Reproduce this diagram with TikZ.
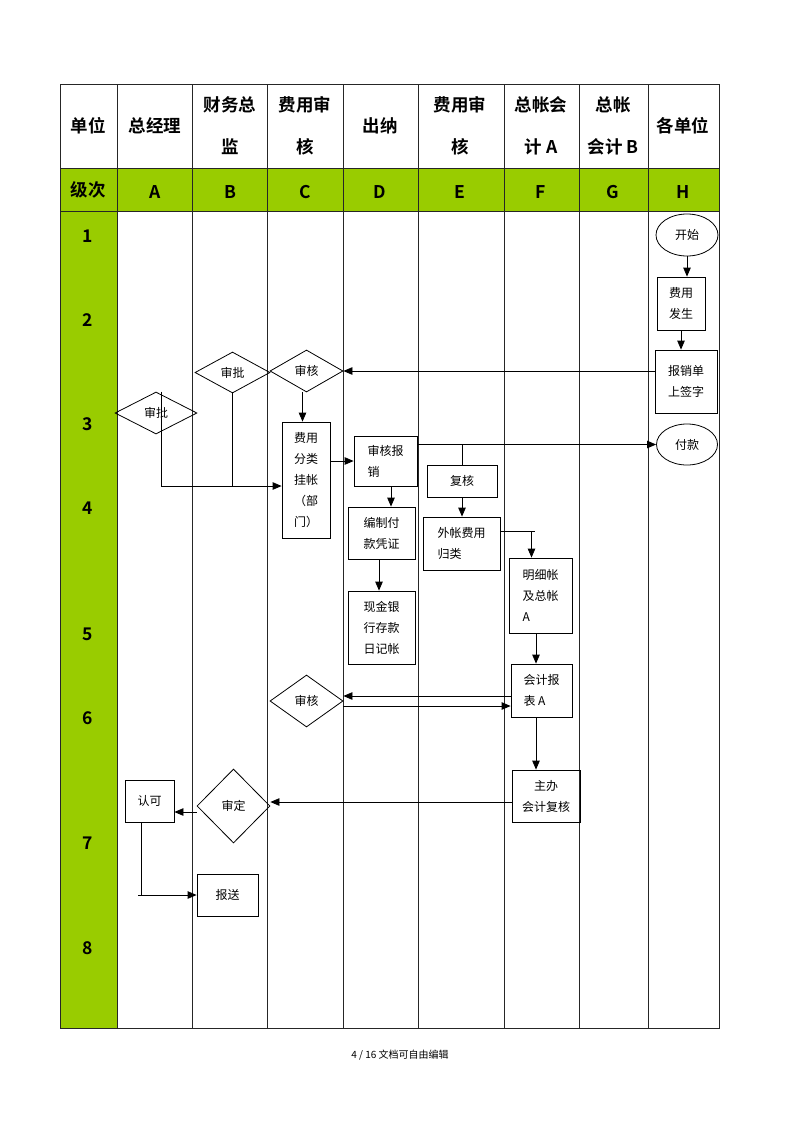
\documentclass[tikz,border=0pt]{standalone}
\usepackage{fontspec}
\newfontfamily\cjk{Noto Sans CJK SC}
\newfontfamily\hei{Noto Sans CJK SC Bold}
\usetikzlibrary{shapes.geometric,arrows.meta,calc}
\definecolor{lgreen}{RGB}{153,204,0}
\begin{document}
\begin{tikzpicture}[x=1pt,y=-1pt,
 every node/.style={font=\cjk\fontsize{12}{21}\selectfont},
 box/.style={draw, line width=0.8pt, align=left, inner sep=2pt},
 dia/.style={draw, diamond, line width=0.8pt, inner sep=0pt},
 ell/.style={draw, ellipse, line width=0.8pt, inner sep=0pt},
 arr/.style={line width=0.8pt, -{Triangle[length=9pt,width=7.5pt]}},
 con/.style={line width=0.8pt},
 hd/.style={font=\hei\fontsize{17.5}{42}\selectfont, align=center},
 gridline/.style={line width=0.7pt, draw=black!85}]
\useasboundingbox (0,0) rectangle (800,1132);
% table
\fill[lgreen] (60,168) rectangle (719,211);
\fill[lgreen] (60,211) rectangle (117,1028);
\draw[gridline] (60,84) rectangle (719,1028);
\draw[gridline] (60,168) -- (719,168);
\draw[gridline] (60,211) -- (719,211);
\foreach \x in {117,192,267,343,418,504,579,648}
  \draw[gridline] (\x,84) -- (\x,1028);
% header
\node[hd] (h0) at (88,126) {单位};
\node[hd] (h1) at (155,126) {总经理};
\node[hd] (h2) at (230,126) {财务总\\监};
\node[hd] (h3) at (305,126) {费用审\\核};
\node[hd] (h4) at (380,126) {出纳};
\node[hd] (h5) at (460,126) {费用审\\核};
\node[hd] (h6) at (541,126) {总帐会\\计 A};
\node[hd] (h7) at (613,126) {总帐\\会计 B};
\node[hd] (h8) at (683,126) {各单位};
\node[hd] (g0) at (88,190) {级次};
\node[hd] (gA) at (155,192) {A};
\node[hd] (gB) at (230,192) {B};
\node[hd] (gC) at (305,192) {C};
\node[hd] (gD) at (380,192) {D};
\node[hd] (gE) at (460,192) {E};
\node[hd] (gF) at (541,192) {F};
\node[hd] (gG) at (613,192) {G};
\node[hd] (gH) at (683,192) {H};
\node[hd] (r1) at (88,236) {1};
\node[hd] (r2) at (88,320) {2};
\node[hd] (r3) at (88,424) {3};
\node[hd] (r4) at (88,508) {4};
\node[hd] (r5) at (88,634) {5};
\node[hd] (r6) at (88,718) {6};
\node[hd] (r7) at (88,843) {7};
\node[hd] (r8) at (88,948) {8};
% nodes
\node[ell, minimum width=62, minimum height=42] (ks) at (687,235) {开始};
\node[box, minimum width=48, minimum height=53] (fy) at (681,303.5) {费用\\发生};
\node[box, minimum width=62, minimum height=63] (bx) at (686,381.5) {报销单\\上签字};
\node[ell, minimum width=61, minimum height=41] (fk) at (687,444.5) {付款};
\node[dia, minimum width=73, minimum height=42] (shC1) at (306.5,371) {审核};
\node[dia, minimum width=75, minimum height=41] (spB) at (232.5,372.5) {审批};
\node[dia, minimum width=82, minimum height=42] (spA) at (156,413) {审批};
\node[box, minimum width=48, minimum height=116] (fl) at (306,480) {费用\\分类\\挂帐\\（部\\门）};
\node[box, minimum width=63, minimum height=50] (shbx) at (385.5,461) {审核报\\销};
\node[box, minimum width=70, minimum height=32] (fh) at (462,481) {复核};
\node[box, minimum width=77, minimum height=53] (wz) at (461.5,543.5) {外帐费用\\归类};
\node[box, minimum width=63, minimum height=75] (mx) at (540.5,595.5) {明细帐\\及总帐\\A};
\node[box, minimum width=67, minimum height=52] (bz) at (381.5,533) {编制付\\款凭证};
\node[box, minimum width=67, minimum height=73] (xj) at (381.5,627.5) {现金银\\行存款\\日记帐};
\node[box, minimum width=61, minimum height=53] (kb) at (541.5,690.5) {会计报\\表 A};
\node[dia, minimum width=73, minimum height=52] (shC2) at (306.5,701) {审核};
\node[box, minimum width=68, minimum height=52] (zb) at (546,796) {\quad 主办\\会计复核};
\node[dia, minimum width=73, minimum height=74] (sd) at (233.5,806) {审定};
\node[box, minimum width=49, minimum height=42] (rk) at (149.5,801) {认可};
\node[box, minimum width=61, minimum height=42] (bs) at (227.5,895) {报送};
% connectors
\draw[arr] (ks.south) -- (ks.south |- fy.north);
\draw[arr] (fy.south) -- (fy.south |- bx.north);
\draw[arr] (bx.west |- shC1.east) -- (shC1.east);
\draw[arr] ([xshift=-4]shC1.south) -- ([xshift=-4]shC1.south |- fl.north);
\coordinate (fin) at ([yshift=-6]fl.west);
\draw[arr] ([xshift=5]spA.north) |- (fin);
\draw[con] (spB.south) -- (spB.south |- fin);
\draw[arr] (fl.east |- shbx.west) -- (shbx.west);
\draw[arr] (shbx.east |- fk.west) -- (fk.west);
\draw[con] (fh.north |- fk.west) -- (fh.north);
\draw[arr] (fh.south) -- (fh.south |- wz.north);
\coordinate (wze) at ([yshift=12]wz.east);
\coordinate (mxn) at ([xshift=-9]mx.north);
\draw[arr] (wze) -| (mxn);
\draw[con] (wze -| mxn) -- ++(3,0);
\draw[arr] ([xshift=5.5]shbx.south) -- ([xshift=5.5]shbx.south |- bz.north);
\draw[arr] ([xshift=-2.5]bz.south) -- ([xshift=-2.5]bz.south |- xj.north);
\draw[arr] ([xshift=-4.5]mx.south) -- ([xshift=-4.5]mx.south |- kb.north);
\coordinate (a1) at ([yshift=5]shC2.east);
\coordinate (a2) at ([yshift=-5]shC2.east);
\draw[arr] (kb.west |- a1) -- (a1);
\draw[arr] (a2) -- (a2 -| kb.west);
\draw[arr] ([xshift=-5.5]kb.south) -- ([xshift=-5.5]kb.south |- zb.north);
\coordinate (sde) at ([yshift=4]sd.east);
\draw[arr] (zb.west |- sde) -- (sde);
\coordinate (sdw) at ([yshift=-6]sd.west);
\draw[arr] (sdw) -- (sdw -| rk.east);
\coordinate (rks) at ([xshift=-8]rk.south);
\draw[arr] (rks) |- (bs.west);
\draw[con] (rks |- bs.west) -- ++(-4,0);
% footer
\node[font=\cjk\fontsize{10}{12}\selectfont] (ft) at (400,1055) {4 / 16 文档可自由编辑};
\end{tikzpicture}
\end{document}
